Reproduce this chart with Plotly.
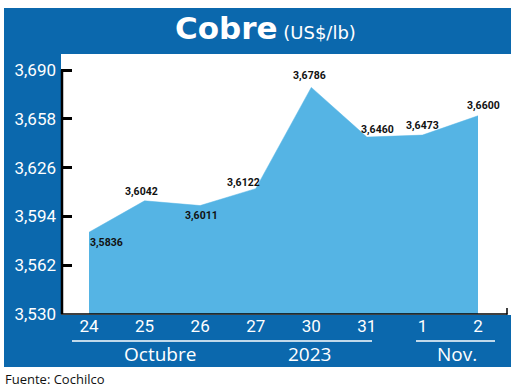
import plotly.graph_objects as go

# ---- data ----
days = ["24", "25", "26", "27", "30", "31", "1", "2"]
prices = [3.5836, 3.6042, 3.6011, 3.6122, 3.6786, 3.6460, 3.6473, 3.6600]
y_ticks = [3.530, 3.562, 3.594, 3.626, 3.658, 3.690]
month_labels = ["Octubre", "2023", "Nov."]

W, H = 520, 389
BLUE = "#0b68ad"
FILL = "#55b4e4"
NARROW = "Roboto, sans-serif"
SANS = "Open Sans, Noto Sans, sans-serif"


def px(x):
    return x / W


def py(y):
    return 1 - y / H


def comma(v, nd):
    return f"{v:.{nd}f}".replace(".", ",")


xs = list(range(len(days)))

fig = go.Figure()
fig.add_trace(go.Scatter(
    x=xs, y=prices, mode="lines", fill="tozeroy",
    line=dict(color=FILL, width=0.5), fillcolor=FILL, hoverinfo="skip",
))

# data labels (offsets in pixels)
shifts = [(17, -10), (-3, 9), (1, -10), (-12, 6), (-2, 12), (11, 8), (0, 10), (5, 10)]
for i, (v, (dx, dy)) in enumerate(zip(prices, shifts)):
    fig.add_annotation(x=xs[i], y=v, xref="x", yref="y", text=comma(v, 4),
                       showarrow=False, xshift=dx, yshift=dy,
                       font=dict(family=NARROW, size=10.5, color="#111111", weight="bold"))

# blue frame pieces and axis decorations
shapes = [
    dict(type="rect", xref="paper", yref="paper", x0=px(4), x1=px(511), y0=py(54), y1=py(8),
         fillcolor=BLUE, line=dict(width=0), layer="below"),
    dict(type="rect", xref="paper", yref="paper", x0=px(4), x1=px(61), y0=py(316), y1=py(54),
         fillcolor=BLUE, line=dict(width=0), layer="below"),
    dict(type="rect", xref="paper", yref="paper", x0=px(4), x1=px(511), y0=py(367), y1=py(315),
         fillcolor=BLUE, line=dict(width=0), layer="below"),
    # group underlines
    dict(type="line", xref="paper", yref="paper", x0=px(72), x1=px(372), y0=py(341), y1=py(341),
         line=dict(color="white", width=1.5)),
    dict(type="line", xref="paper", yref="paper", x0=px(416), x1=px(495), y0=py(341), y1=py(341),
         line=dict(color="white", width=1.5)),
    # y axis line from lowest to highest tick
    dict(type="line", xref="paper", yref="y", x0=px(62), x1=px(62), y0=y_ticks[0], y1=y_ticks[-1],
         line=dict(color="black", width=2.5)),
    # x axis line and small end tick
    dict(type="line", xref="paper", yref="paper", x0=px(61), x1=px(507.5), y0=py(314), y1=py(314),
         line=dict(color="black", width=1.5)),
    dict(type="line", xref="paper", yref="paper", x0=px(507), x1=px(507), y0=py(314.5), y1=py(308),
         line=dict(color="black", width=1.5)),
]
fig.update_layout(shapes=shapes)

# title
fig.add_annotation(xref="paper", yref="paper", x=px(265), y=py(28), xanchor="center", yanchor="middle",
                   showarrow=False,
                   text="<span style='font-size:31px;font-weight:bold'>Cobre</span> "
                        "<span style='font-size:18px'>(US$/lb)</span>",
                   font=dict(family="DejaVu Sans, sans-serif", color="white", size=18))

# month / year labels
for t, cx in zip(month_labels, [160, 309, 457]):
    fig.add_annotation(xref="paper", yref="paper", x=px(cx), y=py(354), xanchor="center",
                       yanchor="middle", showarrow=False, text=t,
                       font=dict(family=SANS, size=19, color="white"))

# source
fig.add_annotation(xref="paper", yref="paper", x=px(3), y=py(379), xanchor="left", yanchor="middle",
                   showarrow=False, text="Fuente: Cochilco",
                   font=dict(family=SANS, size=13, color="#111111"))

step = (478 - 89) / 7
x0 = -(89 - 61) / step
fig.update_layout(
    width=W, height=H, margin=dict(l=0, r=0, t=0, b=0),
    paper_bgcolor="white", plot_bgcolor="white", showlegend=False,
    xaxis=dict(domain=[px(61), px(511)], range=[x0, x0 + 450 / step], tickmode="array",
               tickvals=xs, ticktext=days, showgrid=False, zeroline=False,
               showline=False, ticks="",
               tickfont=dict(family=NARROW, size=17, color="white"), fixedrange=True,
               automargin=False),
    yaxis=dict(domain=[py(314), py(54)], range=[3.53, 3.69 + 16 / 1525], tickmode="array",
               tickvals=y_ticks, ticktext=[comma(v, 3) for v in y_ticks],
               showgrid=False, zeroline=False, showline=False,
               ticks="inside", ticklen=11, tickwidth=2.5, tickcolor="black",
               tickfont=dict(family=NARROW, size=17, color="white"), fixedrange=True,
               automargin=False, ticklabelstandoff=4),
)

fig.write_html("out.html", config={"displayModeBar": False},
               post_script="document.body.style.margin='0';document.body.style.overflow='hidden';")
